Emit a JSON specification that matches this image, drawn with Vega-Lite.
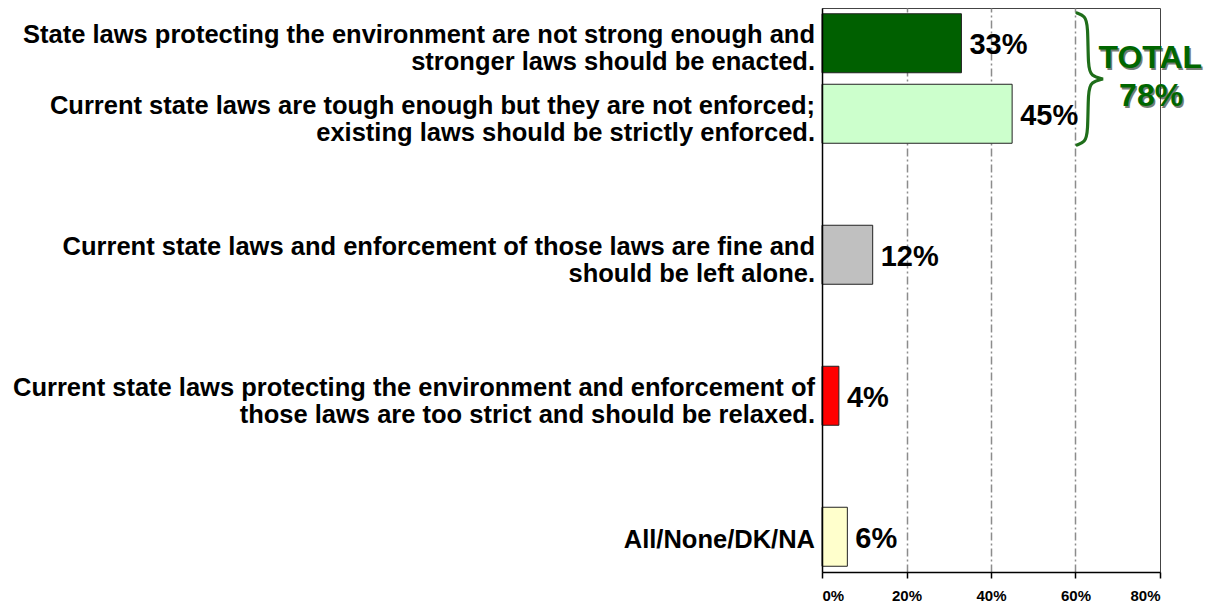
{
  "$schema": "https://vega.github.io/schema/vega-lite/v6.json",
  "width": 338,
  "height": 564,
  "autosize": {"type": "none"},
  "padding": {"left": 822, "top": 8, "right": 54, "bottom": 36},
  "background": "white",
  "config": {
    "font": "Liberation Sans",
    "view": {"stroke": "#444444", "strokeWidth": 1}
  },
  "datasets": {
    "bars": [
      {"label": "State laws protecting the environment are not strong enough and|stronger laws should be enacted.", "value": 0.33, "slot": 0, "lines": 2},
      {"label": "Current state laws are tough enough but they are not enforced;|existing laws should be strictly enforced.", "value": 0.45, "slot": 1, "lines": 2},
      {"label": "Current state laws and enforcement of those laws are fine and|should be left alone.", "value": 0.12, "slot": 3, "lines": 2},
      {"label": "Current state laws protecting the environment and enforcement of|those laws are too strict and should be relaxed.", "value": 0.04, "slot": 5, "lines": 2},
      {"label": "All/None/DK/NA", "value": 0.06, "slot": 7, "lines": 1}
    ],
    "brace": [
      {"i": 0, "bx": 0.6035, "by": -0.429},
      {"i": 1, "bx": 0.6225, "by": -0.387},
      {"i": 2, "bx": 0.6296, "by": -0.259},
      {"i": 3, "bx": 0.6296, "by": 0.337},
      {"i": 4, "bx": 0.6367, "by": 0.465},
      {"i": 5, "bx": 0.665, "by": 0.507},
      {"i": 6, "bx": 0.665, "by": 0.507},
      {"i": 7, "bx": 0.665, "by": 0.507},
      {"i": 8, "bx": 0.6367, "by": 0.55},
      {"i": 9, "bx": 0.6296, "by": 0.677},
      {"i": 10, "bx": 0.6296, "by": 1.273},
      {"i": 11, "bx": 0.6225, "by": 1.401},
      {"i": 12, "bx": 0.6035, "by": 1.443}
    ],
    "total": [
      {"tx": 0.777, "ty": 0.21, "t": "TOTAL"},
      {"tx": 0.779, "ty": 0.755, "t": "78%"}
    ]
  },
  "encoding": {
    "y": {
      "type": "quantitative",
      "scale": {"domain": [-0.5, 7.5], "reverse": true, "nice": false, "zero": false, "padding": 0},
      "axis": {"labels": false, "ticks": false, "grid": false, "domain": true, "domainColor": "black", "domainWidth": 1.5, "title": null, "zindex": 2}
    }
  },
  "layer": [
    {
      "data": {"name": "bars"},
      "mark": {"type": "bar", "orient": "horizontal", "height": 59, "stroke": "#222222", "strokeWidth": 1},
      "encoding": {
        "y": {"field": "slot", "type": "quantitative"},
        "x": {
          "field": "value", "type": "quantitative",
          "scale": {"domain": [0, 0.8], "nice": false},
          "axis": {
            "values": [0, 0.2, 0.4, 0.6, 0.8],
            "format": ".0%",
            "title": null,
            "grid": true,
            "gridColor": "#8c8c8c",
            "gridWidth": 1.5,
            "gridDash": [8, 3, 2, 3],
            "gridOpacity": {"condition": {"test": "datum.value <= 0 || datum.value >= 0.8", "value": 0}, "value": 1},
            "domainColor": "black",
            "domainWidth": 1.5,
            "tickColor": "black",
            "tickSize": 6,
            "tickWidth": 1.5,
            "labelFont": "Liberation Sans",
            "labelFontWeight": "bold",
            "labelFontSize": 15,
            "labelColor": "black",
            "labelPadding": 10
          }
        },
        "color": {
          "field": "label", "type": "nominal", "legend": null,
          "scale": {
            "domain": [
              "State laws protecting the environment are not strong enough and|stronger laws should be enacted.",
              "Current state laws are tough enough but they are not enforced;|existing laws should be strictly enforced.",
              "Current state laws and enforcement of those laws are fine and|should be left alone.",
              "Current state laws protecting the environment and enforcement of|those laws are too strict and should be relaxed.",
              "All/None/DK/NA"
            ],
            "range": ["#006000", "#ccffcc", "#c0c0c0", "#ff0000", "#ffffcc"]
          }
        }
      }
    },
    {
      "data": {"name": "bars"},
      "mark": {"type": "text", "align": "left", "baseline": "middle", "dx": 8, "dy": 2, "fontSize": 29, "fontWeight": "bold", "color": "black"},
      "encoding": {
        "y": {"field": "slot", "type": "quantitative"},
        "x": {"field": "value", "type": "quantitative"},
        "text": {"field": "value", "type": "quantitative", "format": ".0%"}
      }
    },
    {
      "data": {"name": "bars"},
      "transform": [{"filter": "datum.lines == 2"}],
      "mark": {"type": "text", "align": "right", "baseline": "middle", "dx": -7, "dy": -8, "fontSize": 25.5, "fontWeight": "bold", "lineBreak": "|", "lineHeight": 27, "color": "black"},
      "encoding": {
        "y": {"field": "slot", "type": "quantitative"},
        "x": {"datum": 0, "type": "quantitative"},
        "text": {"field": "label"}
      }
    },
    {
      "data": {"name": "bars"},
      "transform": [{"filter": "datum.lines == 1"}],
      "mark": {"type": "text", "align": "right", "baseline": "middle", "dx": -7, "dy": 3, "fontSize": 25.5, "fontWeight": "bold", "color": "black"},
      "encoding": {
        "y": {"field": "slot", "type": "quantitative"},
        "x": {"datum": 0, "type": "quantitative"},
        "text": {"field": "label"}
      }
    },
    {
      "data": {"name": "brace"},
      "mark": {"type": "line", "interpolate": "basis", "stroke": "#1f6e1a", "strokeWidth": 3.2, "strokeCap": "round"},
      "encoding": {
        "x": {"field": "bx", "type": "quantitative"},
        "y": {"field": "by", "type": "quantitative"},
        "order": {"field": "i"}
      }
    },
    {
      "data": {"name": "total"},
      "mark": {"type": "text", "align": "center", "baseline": "middle", "dx": 1.5, "dy": 1.5, "fontSize": 32, "fontWeight": "bold", "color": "#1a2a1a", "opacity": 0.6},
      "encoding": {
        "x": {"field": "tx", "type": "quantitative"},
        "y": {"field": "ty", "type": "quantitative"},
        "text": {"field": "t"}
      }
    },
    {
      "data": {"name": "total"},
      "mark": {"type": "text", "align": "center", "baseline": "middle", "fontSize": 32, "fontWeight": "bold", "color": "#006600"},
      "encoding": {
        "x": {"field": "tx", "type": "quantitative"},
        "y": {"field": "ty", "type": "quantitative"},
        "text": {"field": "t"}
      }
    }
  ]
}
